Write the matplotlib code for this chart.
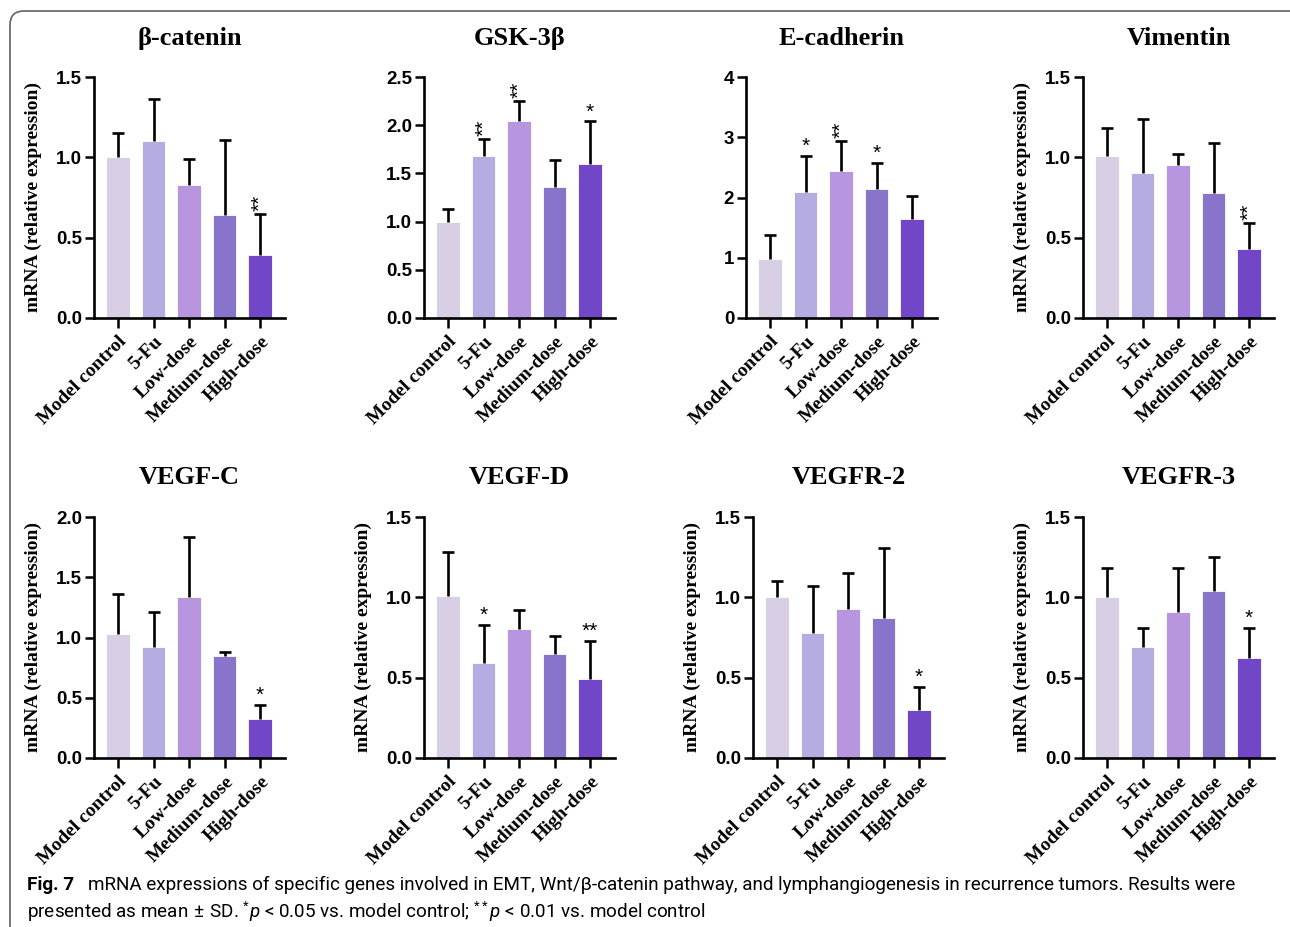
import numpy as np
import matplotlib
matplotlib.use("Agg")
import matplotlib.pyplot as plt
from matplotlib.patches import FancyBboxPatch
from matplotlib.transforms import IdentityTransform

# Datos (media y DE)
grupos = ["Model control", "5-Fu", "Low-dose", "Medium-dose", "High-dose"]
colores = ["#D8CFE5", "#B5ADE1", "#B795DF", "#8974CC", "#7247C7"]

genes = ["β-catenin", "GSK-3β", "E-cadherin", "Vimentin",
         "VEGF-C", "VEGF-D", "VEGFR-2", "VEGFR-3"]

media_bcat = [1.00, 1.10, 0.83, 0.64, 0.39]
de_bcat = [0.15, 0.26, 0.16, 0.47, 0.26]
media_gsk = [1.00, 1.68, 2.04, 1.36, 1.60]
de_gsk = [0.13, 0.18, 0.21, 0.28, 0.44]
media_ecad = [0.98, 2.09, 2.44, 2.14, 1.65]
de_ecad = [0.40, 0.60, 0.50, 0.43, 0.37]
media_vim = [1.01, 0.90, 0.95, 0.78, 0.43]
de_vim = [0.17, 0.34, 0.07, 0.31, 0.16]
media_vegfc = [1.03, 0.92, 1.34, 0.85, 0.32]
de_vegfc = [0.33, 0.29, 0.49, 0.03, 0.12]
media_vegfd = [1.01, 0.59, 0.80, 0.65, 0.49]
de_vegfd = [0.27, 0.24, 0.12, 0.11, 0.24]
media_vegfr2 = [1.00, 0.78, 0.93, 0.87, 0.30]
de_vegfr2 = [0.10, 0.29, 0.22, 0.44, 0.14]
media_vegfr3 = [1.00, 0.69, 0.91, 1.04, 0.62]
de_vegfr3 = [0.18, 0.12, 0.27, 0.21, 0.19]

medias = [media_bcat, media_gsk, media_ecad, media_vim,
          media_vegfc, media_vegfd, media_vegfr2, media_vegfr3]
des = [de_bcat, de_gsk, de_ecad, de_vim,
       de_vegfc, de_vegfd, de_vegfr2, de_vegfr3]

# Significancia
sig = [["", "", "", "", "**"],
       ["", "**", "**", "", "*"],
       ["", "*", "**", "*", ""],
       ["", "", "", "", "**"],
       ["", "", "", "", "*"],
       ["", "*", "", "", "**"],
       ["", "", "", "", "*"],
       ["", "", "", "", "*"]]

ymax = [1.5, 2.5, 4, 1.5, 2.0, 1.5, 1.5, 1.5]
yticks = [[0.0, 0.5, 1.0, 1.5], [0.0, 0.5, 1.0, 1.5, 2.0, 2.5], [0, 1, 2, 3, 4],
          [0.0, 0.5, 1.0, 1.5], [0.0, 0.5, 1.0, 1.5, 2.0], [0.0, 0.5, 1.0, 1.5],
          [0.0, 0.5, 1.0, 1.5], [0.0, 0.5, 1.0, 1.5]]
con_ylabel = [True, False, False, True, True, True, True, True]

caption1 = ("mRNA expressions of specific genes involved in EMT, Wnt/β-catenin pathway, "
            "and lymphangiogenesis in recurrence tumors. Results were")
caption2 = (r"presented as mean$\,\pm\,$SD. $^{*}\mathit{p}$ < 0.05 vs. model control; "
            r"$^{**}\mathit{p}$ < 0.01 vs. model control")

plt.rcParams["mathtext.fontset"] = "custom"
plt.rcParams["mathtext.rm"] = "Roboto"
plt.rcParams["mathtext.it"] = "Roboto:italic"

W, H = 1290, 927
fig = plt.figure(figsize=(W / 100, H / 100), dpi=100)

# Posición de los ejes en píxeles (izquierda, arriba)
izq = [94, 424, 746, 1083, 94, 424, 753, 1083]
arr = [77, 77, 77, 77, 517, 517, 517, 517]
ancho, alto = 191, 241

serif = "Liberation Serif"
sans = "Liberation Sans"

x = np.arange(len(grupos))
for k in range(8):
    ax = fig.add_axes([izq[k] / W, (H - arr[k] - alto) / H, ancho / W, alto / H])
    m = np.array(medias[k])
    s = np.array(des[k])
    ax.bar(x, m, width=0.66, color=colores, edgecolor="white", linewidth=0.6, zorder=2)
    _, caps, _ = ax.errorbar(x, m, yerr=[np.zeros_like(s), s], fmt="none", ecolor="black",
                             elinewidth=1.9, capsize=4.5, capthick=1.9, zorder=3)
    caps[0].set_visible(False)  # sin tapa inferior
    for i, txt in enumerate(sig[k]):
        if not txt:
            continue
        rot = 90 if (txt == "**" and k != 5) else 0
        ax.annotate(txt, (x[i], m[i] + s[i]), xytext=(0, 2 if rot else 0),
                    textcoords="offset points", ha="center", va="bottom",
                    rotation=rot, fontsize=15, family=sans)
    ax.set_xlim(-0.68, 4.7)
    ax.set_ylim(0, ymax[k])
    ax.set_yticks(yticks[k])
    if k == 2:
        ax.set_yticklabels([str(t) for t in yticks[k]])
    else:
        ax.set_yticklabels([f"{t:.1f}" for t in yticks[k]])
    ax.set_xticks(x)
    ax.set_xticklabels(grupos, rotation=45, ha="right", rotation_mode="anchor",
                       family=serif, fontweight="bold", fontsize=14)
    for lab in ax.get_yticklabels():
        lab.set_family(sans)
        lab.set_fontweight("bold")
        lab.set_fontsize(13.5)
    ax.tick_params(axis="y", length=6.5, width=1.8, pad=2)
    ax.tick_params(axis="x", length=7, width=1.8, pad=4)
    ax.spines["top"].set_visible(False)
    ax.spines["right"].set_visible(False)
    ax.spines["left"].set_linewidth(1.9)
    ax.spines["bottom"].set_linewidth(1.9)
    ax.text(0.5, 1 + 39 / alto, genes[k], transform=ax.transAxes, ha="center",
            va="center", family=serif, fontweight="bold", fontsize=19)
    if con_ylabel[k]:
        ax.set_ylabel("mRNA (relative expression)", family=serif,
                      fontweight="bold", fontsize=14)
        ax.yaxis.set_label_coords(-52 / ancho, 0.5)

# Marco redondeado
marco = FancyBboxPatch((10, -40), 1296, H - 11 + 40,
                       boxstyle="round,pad=0,rounding_size=14",
                       transform=IdentityTransform(), facecolor="none",
                       edgecolor="#6b6b6b", linewidth=1.3)
fig.patches.append(marco)

# Leyenda de la figura (se ajusta el tamaño para que ocupe el ancho del original)
cap_font = "Roboto"
fs = 14
rend = fig.canvas.get_renderer()
t_fig = fig.text(27 / W, 1 - 885 / H, "Fig. 7", family=cap_font, fontweight="bold",
                 fontsize=fs, va="center", ha="left")
t1 = fig.text(88 / W, 1 - 885 / H, caption1, family=cap_font, fontsize=fs,
              va="center", ha="left")
w1 = t1.get_window_extent(rend).width
fs = fs * (1250 - 88) / w1
t_fig.set_fontsize(fs)
t1.set_fontsize(fs)
t2 = fig.text(27 / W, 1 - 912 / H, caption2, family=cap_font, fontsize=fs,
              va="center", ha="left")

fig.savefig("out.png", dpi=100)
